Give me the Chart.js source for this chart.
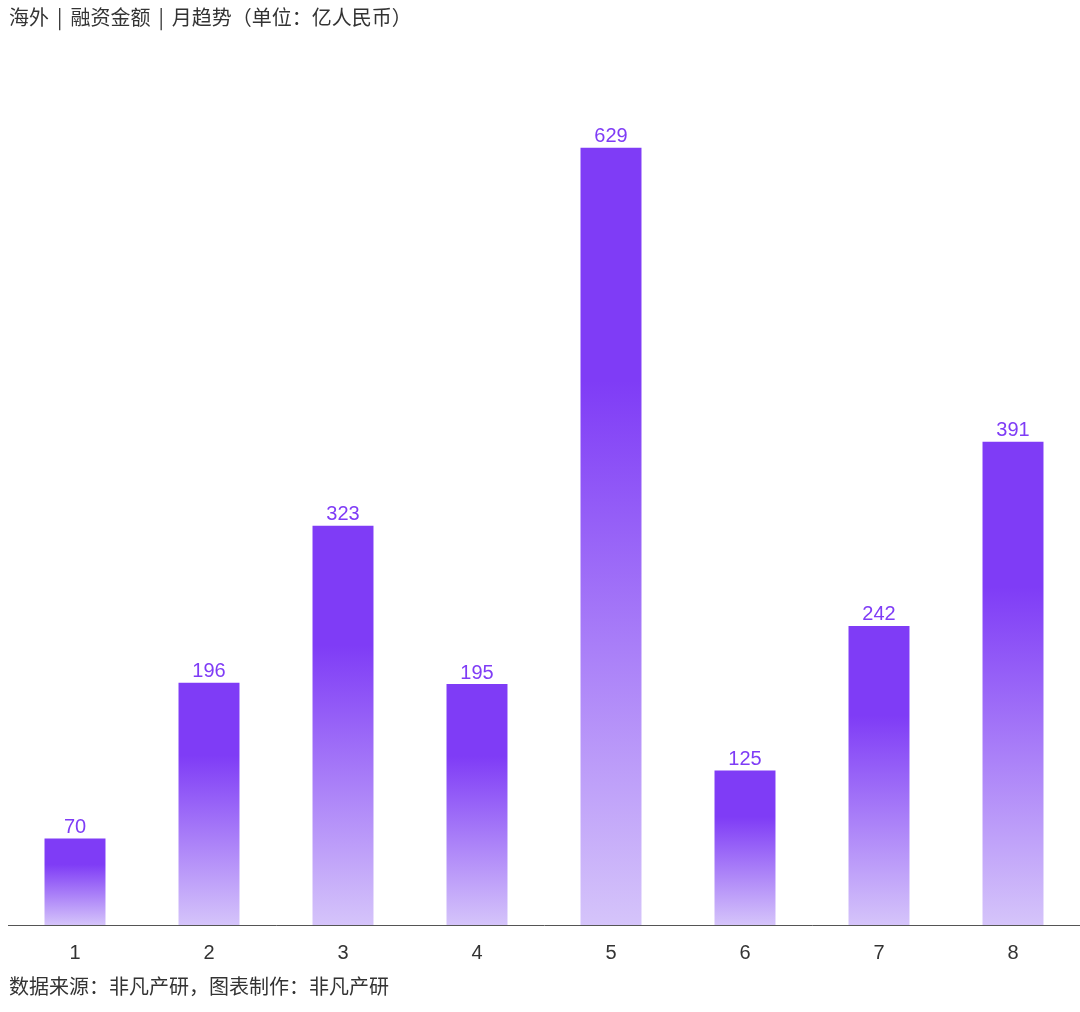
<!DOCTYPE html>
<html><head><meta charset="utf-8">
<script src="https://cdn.jsdelivr.net/npm/chart.js@4.4.0/dist/chart.umd.min.js"></script>
<style>
html,body{margin:0;padding:0;background:#fff;}
#wrap{position:relative;width:1080px;height:1012px;}
canvas{position:absolute;left:0;top:0;}
.t{position:absolute;font-family:"Noto Sans CJK SC","Noto Sans",sans-serif;font-size:20px;color:#333;white-space:nowrap;line-height:1;}
.p{margin:0 8px;}
</style></head>
<body>
<div id="wrap">
<canvas id="c" width="1080" height="1012"></canvas>
<div class="t" id="title" style="left:9px;top:7px;">海外<span class="p">|</span>融资金额<span class="p">|</span>月趋势（单位：亿人民币）</div>
<div class="t" id="foot" style="left:9px;top:976px;">数据来源：非凡产研，图表制作：非凡产研</div>
</div>
<script>
const categories = ["1","2","3","4","5","6","7","8"];
const values = [70, 196, 323, 195, 629, 125, 242, 391];

const labelPlugin = {
  id: 'valueLabels',
  afterDatasetsDraw(chart) {
    const ctx = chart.ctx;
    const meta = chart.getDatasetMeta(0);
    ctx.save();
    ctx.fillStyle = '#7f3cf6';
    ctx.font = '20px "Liberation Sans", Arial, sans-serif';
    ctx.textAlign = 'center';
    ctx.textBaseline = 'bottom';
    meta.data.forEach((bar, i) => {
      ctx.fillText(String(values[i]), bar.x, bar.y - 1);
    });
    ctx.restore();
  }
};

new Chart(document.getElementById('c'), {
  type: 'bar',
  data: {
    labels: categories,
    datasets: [{
      data: values,
      barPercentage: 0.455,
      categoryPercentage: 1,
      backgroundColor(context) {
        const chart = context.chart;
        const area = chart.chartArea;
        if (!area || !chart.scales.y) return '#7f3cf6';
        const v = context.raw;
        const yTop = chart.scales.y.getPixelForValue(v);
        const yBot = chart.scales.y.getPixelForValue(0);
        const g = chart.ctx.createLinearGradient(0, yTop, 0, yBot);
        g.addColorStop(0, '#7f3cf6');
        g.addColorStop(0.3, '#7f3cf6');
        g.addColorStop(1, '#d5c4fa');
        return g;
      }
    }]
  },
  options: {
    responsive: false,
    animation: false,
    devicePixelRatio: 1,
    layout: { padding: { left: 8, right: 0, top: 60, bottom: 31 } },
    plugins: { legend: { display: false }, tooltip: { enabled: false } },
    scales: {
      x: {
        grid: { display: false, drawTicks: false },
        border: { display: true, color: '#555', width: 1 },
        ticks: { color: '#333', padding: 16, font: { size: 20, family: '"Liberation Sans", Arial, sans-serif' } }
      },
      y: { display: false, min: 0, max: 700 }
    }
  },
  plugins: [labelPlugin]
});
</script>
</body></html>
